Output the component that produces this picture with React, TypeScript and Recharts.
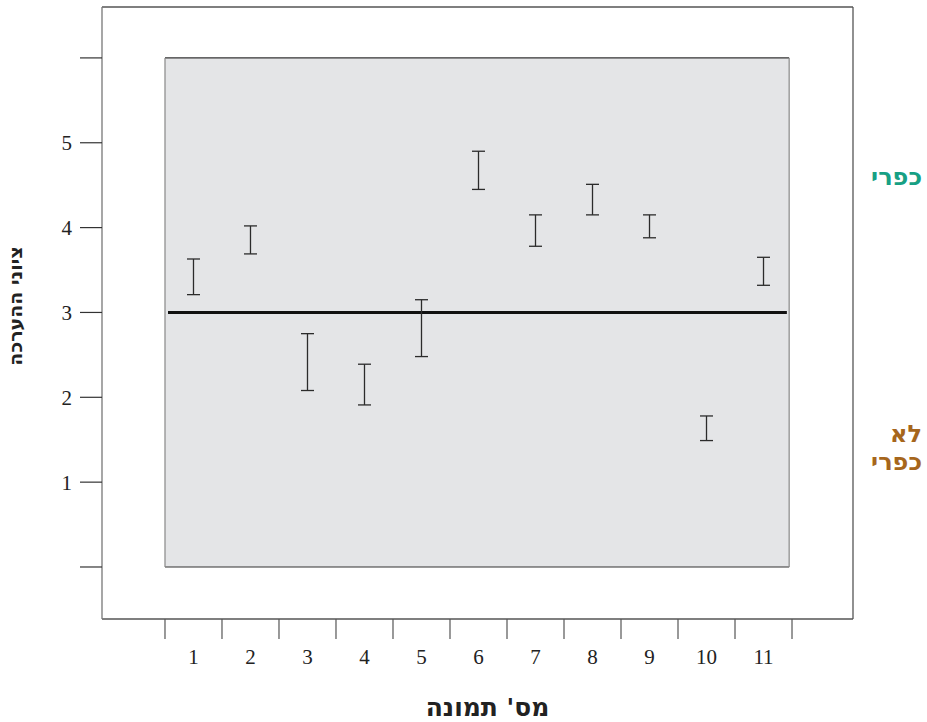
import React from 'react';
import {
  ComposedChart,
  Scatter,
  ErrorBar,
  XAxis,
  YAxis,
  ReferenceArea,
  ReferenceLine,
} from 'recharts';

// image numbers and the low / high ends of each rating interval
const pictures = [1, 2, 3, 4, 5, 6, 7, 8, 9, 10, 11];
const lowValues = [3.21, 3.69, 2.08, 1.91, 2.48, 4.45, 3.78, 4.15, 3.88, 1.49, 3.32];
const highValues = [3.63, 4.02, 2.75, 2.39, 3.15, 4.9, 4.15, 4.51, 4.15, 1.78, 3.65];
const yTicks = [0, 1, 2, 3, 4, 5, 6];
const yLabelled = [1, 2, 3, 4, 5];
const neutralScore = 3;

const SERIF = '"Liberation Serif", "DejaVu Serif", serif';
const SANS = '"DejaVu Sans", "Liberation Sans", sans-serif';

const data = pictures.map((p, i) => {
  const mean = (lowValues[i] + highValues[i]) / 2;
  const half = (highValues[i] - lowValues[i]) / 2;
  return { x: p, mean, err: [half, half] };
});

// category boundaries get a tick mark, category centres get the number
const xTicks = pictures.flatMap(p => [p - 0.5, p]).concat([pictures[pictures.length - 1] + 0.5]);

const XTick = (props: any) => {
  const { x, y, payload } = props;
  const v = payload.value;
  if (Number.isInteger(v)) {
    return (
      <text x={x} y={y + 45} textAnchor="middle" fontFamily={SERIF} fontSize={21} fill="#222">
        {v}
      </text>
    );
  }
  return <line x1={x} y1={y} x2={x} y2={y + 20} stroke="#555" strokeWidth={1.2} />;
};

export default function App() {
  return (
    <div style={{ position: 'absolute', left: 0, top: 0, width: 927, height: 722, background: '#fff' }}>
      <ComposedChart
        width={927}
        height={722}
        data={data}
        margin={{ top: 0, right: 0, bottom: 0, left: 0 }}
      >
        <XAxis
          xAxisId="top"
          orientation="top"
          type="number"
          dataKey="x"
          domain={[-0.605, 12.57]}
          allowDataOverflow
          height={7}
          tick={false}
          tickLine={false}
          axisLine={{ stroke: '#555', strokeWidth: 1.3 }}
        />
        <XAxis
          xAxisId="main"
          type="number"
          dataKey="x"
          domain={[-0.605, 12.57]}
          allowDataOverflow
          ticks={xTicks}
          interval={0}
          height={103}
          tickSize={0}
          tickMargin={0}
          tickLine={false}
          tick={<XTick />}
          axisLine={{ stroke: '#555', strokeWidth: 1.3 }}
          label={{
            value: "מס' תמונה",
            position: 'insideBottom',
            offset: 6,
            dx: 10,
            style: { fontFamily: SANS, fontWeight: 'bold', fontSize: 25, fill: '#222' },
          }}
        />
        <YAxis
          yAxisId="main"
          type="number"
          dataKey="mean"
          domain={[-0.613, 6.6]}
          allowDataOverflow
          ticks={yTicks}
          interval={0}
          width={102}
          tickSize={22}
          tickMargin={8}
          tickFormatter={(v: number) => (yLabelled.includes(v) ? String(v) : '')}
          tick={{ fontFamily: SERIF, fontSize: 21, fill: '#222' }}
          tickLine={{ stroke: '#333', strokeWidth: 1.2 }}
          axisLine={{ stroke: '#777', strokeWidth: 1.3 }}
          label={{
            value: 'ציוני ההערכה',
            angle: -90,
            position: 'insideLeft',
            offset: 15,
            dy: -7,
            style: { textAnchor: 'middle', fontFamily: SANS, fontWeight: 'bold', fontSize: 19, fill: '#222' },
          }}
        />
        <YAxis
          yAxisId="right"
          orientation="right"
          type="number"
          domain={[-0.613, 6.6]}
          allowDataOverflow
          width={74}
          tick={false}
          tickLine={false}
          axisLine={{ stroke: '#555', strokeWidth: 1.3 }}
        />
        <ReferenceArea
          xAxisId="main"
          yAxisId="main"
          x1={0.5}
          x2={11.45}
          y1={0}
          y2={6}
          fill="#e4e5e7"
          fillOpacity={1}
          stroke="none"
        />
        <ReferenceLine xAxisId="main" yAxisId="main" segment={[{ x: 0.5, y: 6 }, { x: 11.45, y: 6 }]} stroke="#333" strokeWidth={1.2} />
        <ReferenceLine xAxisId="main" yAxisId="main" segment={[{ x: 0.5, y: 0 }, { x: 11.45, y: 0 }]} stroke="#333" strokeWidth={1.2} />
        <ReferenceLine xAxisId="main" yAxisId="main" segment={[{ x: 0.5, y: 0 }, { x: 0.5, y: 6 }]} stroke="#888" strokeWidth={1.2} />
        <ReferenceLine xAxisId="main" yAxisId="main" segment={[{ x: 11.45, y: 0 }, { x: 11.45, y: 6 }]} stroke="#888" strokeWidth={1.2} />
        <ReferenceLine
          xAxisId="main"
          yAxisId="main"
          segment={[{ x: 0.553, y: neutralScore }, { x: 11.41, y: neutralScore }]}
          stroke="#111"
          strokeWidth={3}
        />
        <Scatter
          xAxisId="main"
          yAxisId="main"
          dataKey="mean"
          isAnimationActive={false}
          shape={() => <g />}
        >
          <ErrorBar dataKey="err" direction="y" width={6.5} stroke="#2b2b2b" strokeWidth={1.3} isAnimationActive={false} />
        </Scatter>
      </ComposedChart>
      <div
        style={{
          position: 'absolute',
          right: 5,
          top: 163,
          direction: 'rtl',
          textAlign: 'right',
          fontFamily: SANS,
          fontWeight: 'bold',
          fontSize: 24,
          lineHeight: '28px',
          color: '#17a084',
        }}
      >
        כפרי
      </div>
      <div
        style={{
          position: 'absolute',
          right: 5,
          top: 420,
          direction: 'rtl',
          textAlign: 'right',
          fontFamily: SANS,
          fontWeight: 'bold',
          fontSize: 24,
          lineHeight: '28px',
          color: '#a6661c',
        }}
      >
        לא
        <br />
        כפרי
      </div>
    </div>
  );
}
